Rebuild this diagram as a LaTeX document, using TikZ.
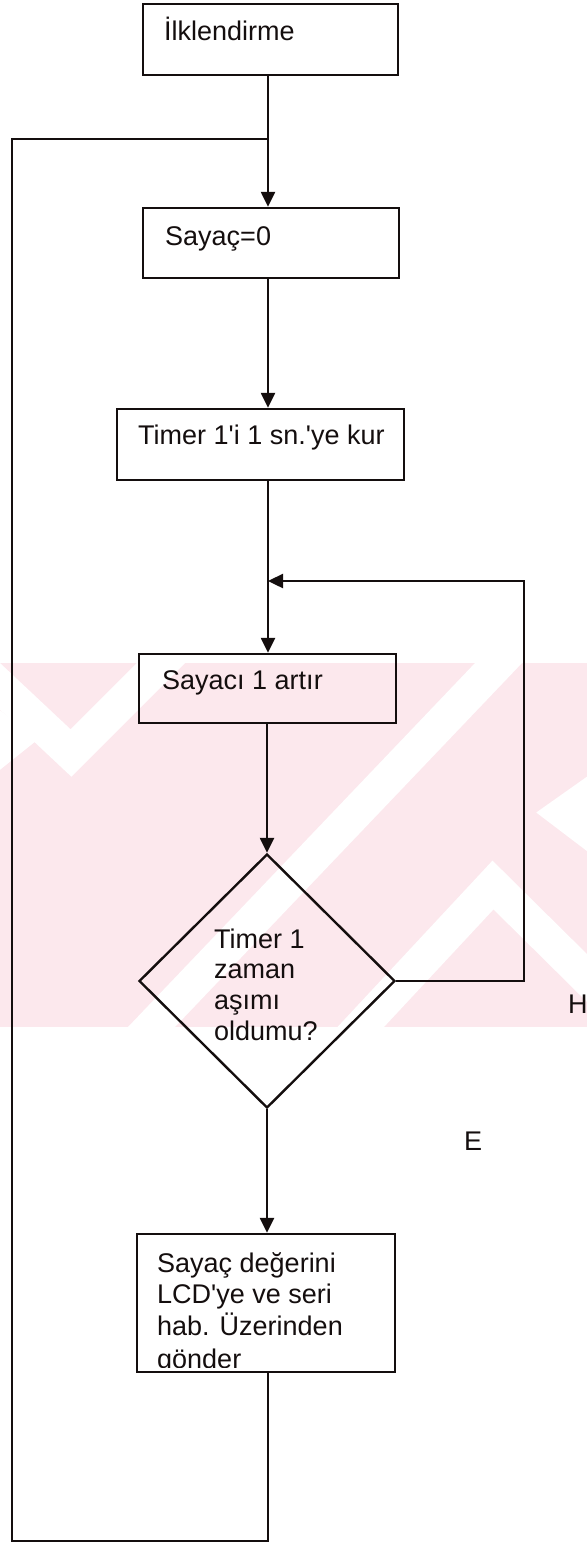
\documentclass[tikz,border=0pt]{standalone}
\usepackage{fontspec}
\setmainfont{Liberation Sans}
\usetikzlibrary{arrows.meta,shapes.geometric}
\definecolor{wm}{RGB}{252,232,237}
\definecolor{ink}{RGB}{20,14,14}
\begin{document}
\begin{tikzpicture}[x=1pt,y=-1pt,
  line width=2.4pt, draw=ink, text=ink,
  box/.style={draw=ink, rectangle, inner sep=0pt},
  dia/.style={draw=ink, diamond, inner sep=0pt, aspect=1},
  txt/.style={anchor=base west, inner sep=0pt, font=\fontsize{27}{32}\selectfont},
  arr/.style={draw=ink, -{Triangle[length=15pt,width=14pt]}},
  stripe/.style={white, line width=34pt}]
\useasboundingbox (0,0) rectangle (587,1543);
% watermark
\begin{scope}
  \clip (0,663) rectangle (587,1027);
  \fill[wm] (0,663) rectangle (587,1027);
  \draw[stripe] (-60,630) -- (71,753) -- (190,634);
  \draw[stripe] (120,1060) -- (530,630);
  \draw[stripe] (330,1060) -- (493,885) -- (680,1070);
  \draw[stripe] (640,760) -- (565,813) -- (640,870);
  \draw[stripe] (-40,700) -- (10,740) -- (-40,780);
\end{scope}
% boxes
\node[box, minimum width=255pt, minimum height=71pt] (b1) at (270.5,39.5) {};
\node[box, minimum width=256pt, minimum height=70pt] (b2) at (271,243) {};
\node[box, minimum width=287pt, minimum height=71pt] (b3) at (260.5,444.5) {};
\node[box, minimum width=257pt, minimum height=69pt] (b4) at (267.5,688.5) {};
\node[dia, minimum width=256pt, minimum height=254pt] (d) at (267,981) {};
\node[box, minimum width=258pt, minimum height=138pt] (b5) at (266,1303) {};
% texts
\node[txt] (t1) at (163,40) {İlklendirme};
\node[txt] (t2) at (164,245) {Sayaç=0};
\node[txt] (t3) at (137,444) {Timer 1\textquotesingle i 1 sn.\textquotesingle ye kur};
\node[txt] (t4) at (161,689) {Sayacı 1 artır};
\node[txt] (q1) at (213,948) {Timer 1};
\node[txt] (q2) at (213,978) {zaman};
\node[txt] (q3) at (213,1009) {aşımı};
\node[txt] (q4) at (213,1040) {oldumu?};
\begin{scope}
  \clip (b5.north west) rectangle ([yshift=6pt]b5.south east);
  \node[txt] (s1) at (156,1272) {Sayaç değerini};
  \node[txt] (s2) at (156,1303) {LCD\textquotesingle ye ve seri};
  \node[txt] (s3) at (156,1335) {hab. Üzerinden};
  \node[txt] (s4) at (156,1368) {gönder};
\end{scope}
\node[txt] (h) at (567,1013) {H};
\node[txt] (e) at (463,1150) {E};
% connectors
\coordinate (sp) at (268,0);
\coordinate (j1) at (268,139);
\coordinate (j2) at (268,581);
\coordinate (rc) at (524,581);
\coordinate (bl) at (12,1541);
\draw[arr] (b1.south -| sp) -- (b2.north -| sp);
\draw[arr] (b2.south -| sp) -- (b3.north -| sp);
\draw[arr] (b3.south -| sp) -- (b4.north -| sp);
\draw[arr] (b4.south -| d.north) -- (d.north);
\draw[arr] (d.south) -- (b5.north -| d.south);
\draw[arr] (d.east) -| (rc) -- (j2);
\draw[draw=ink] (b5.south -| sp) |- (bl) |- (j1);
\end{tikzpicture}
\end{document}
